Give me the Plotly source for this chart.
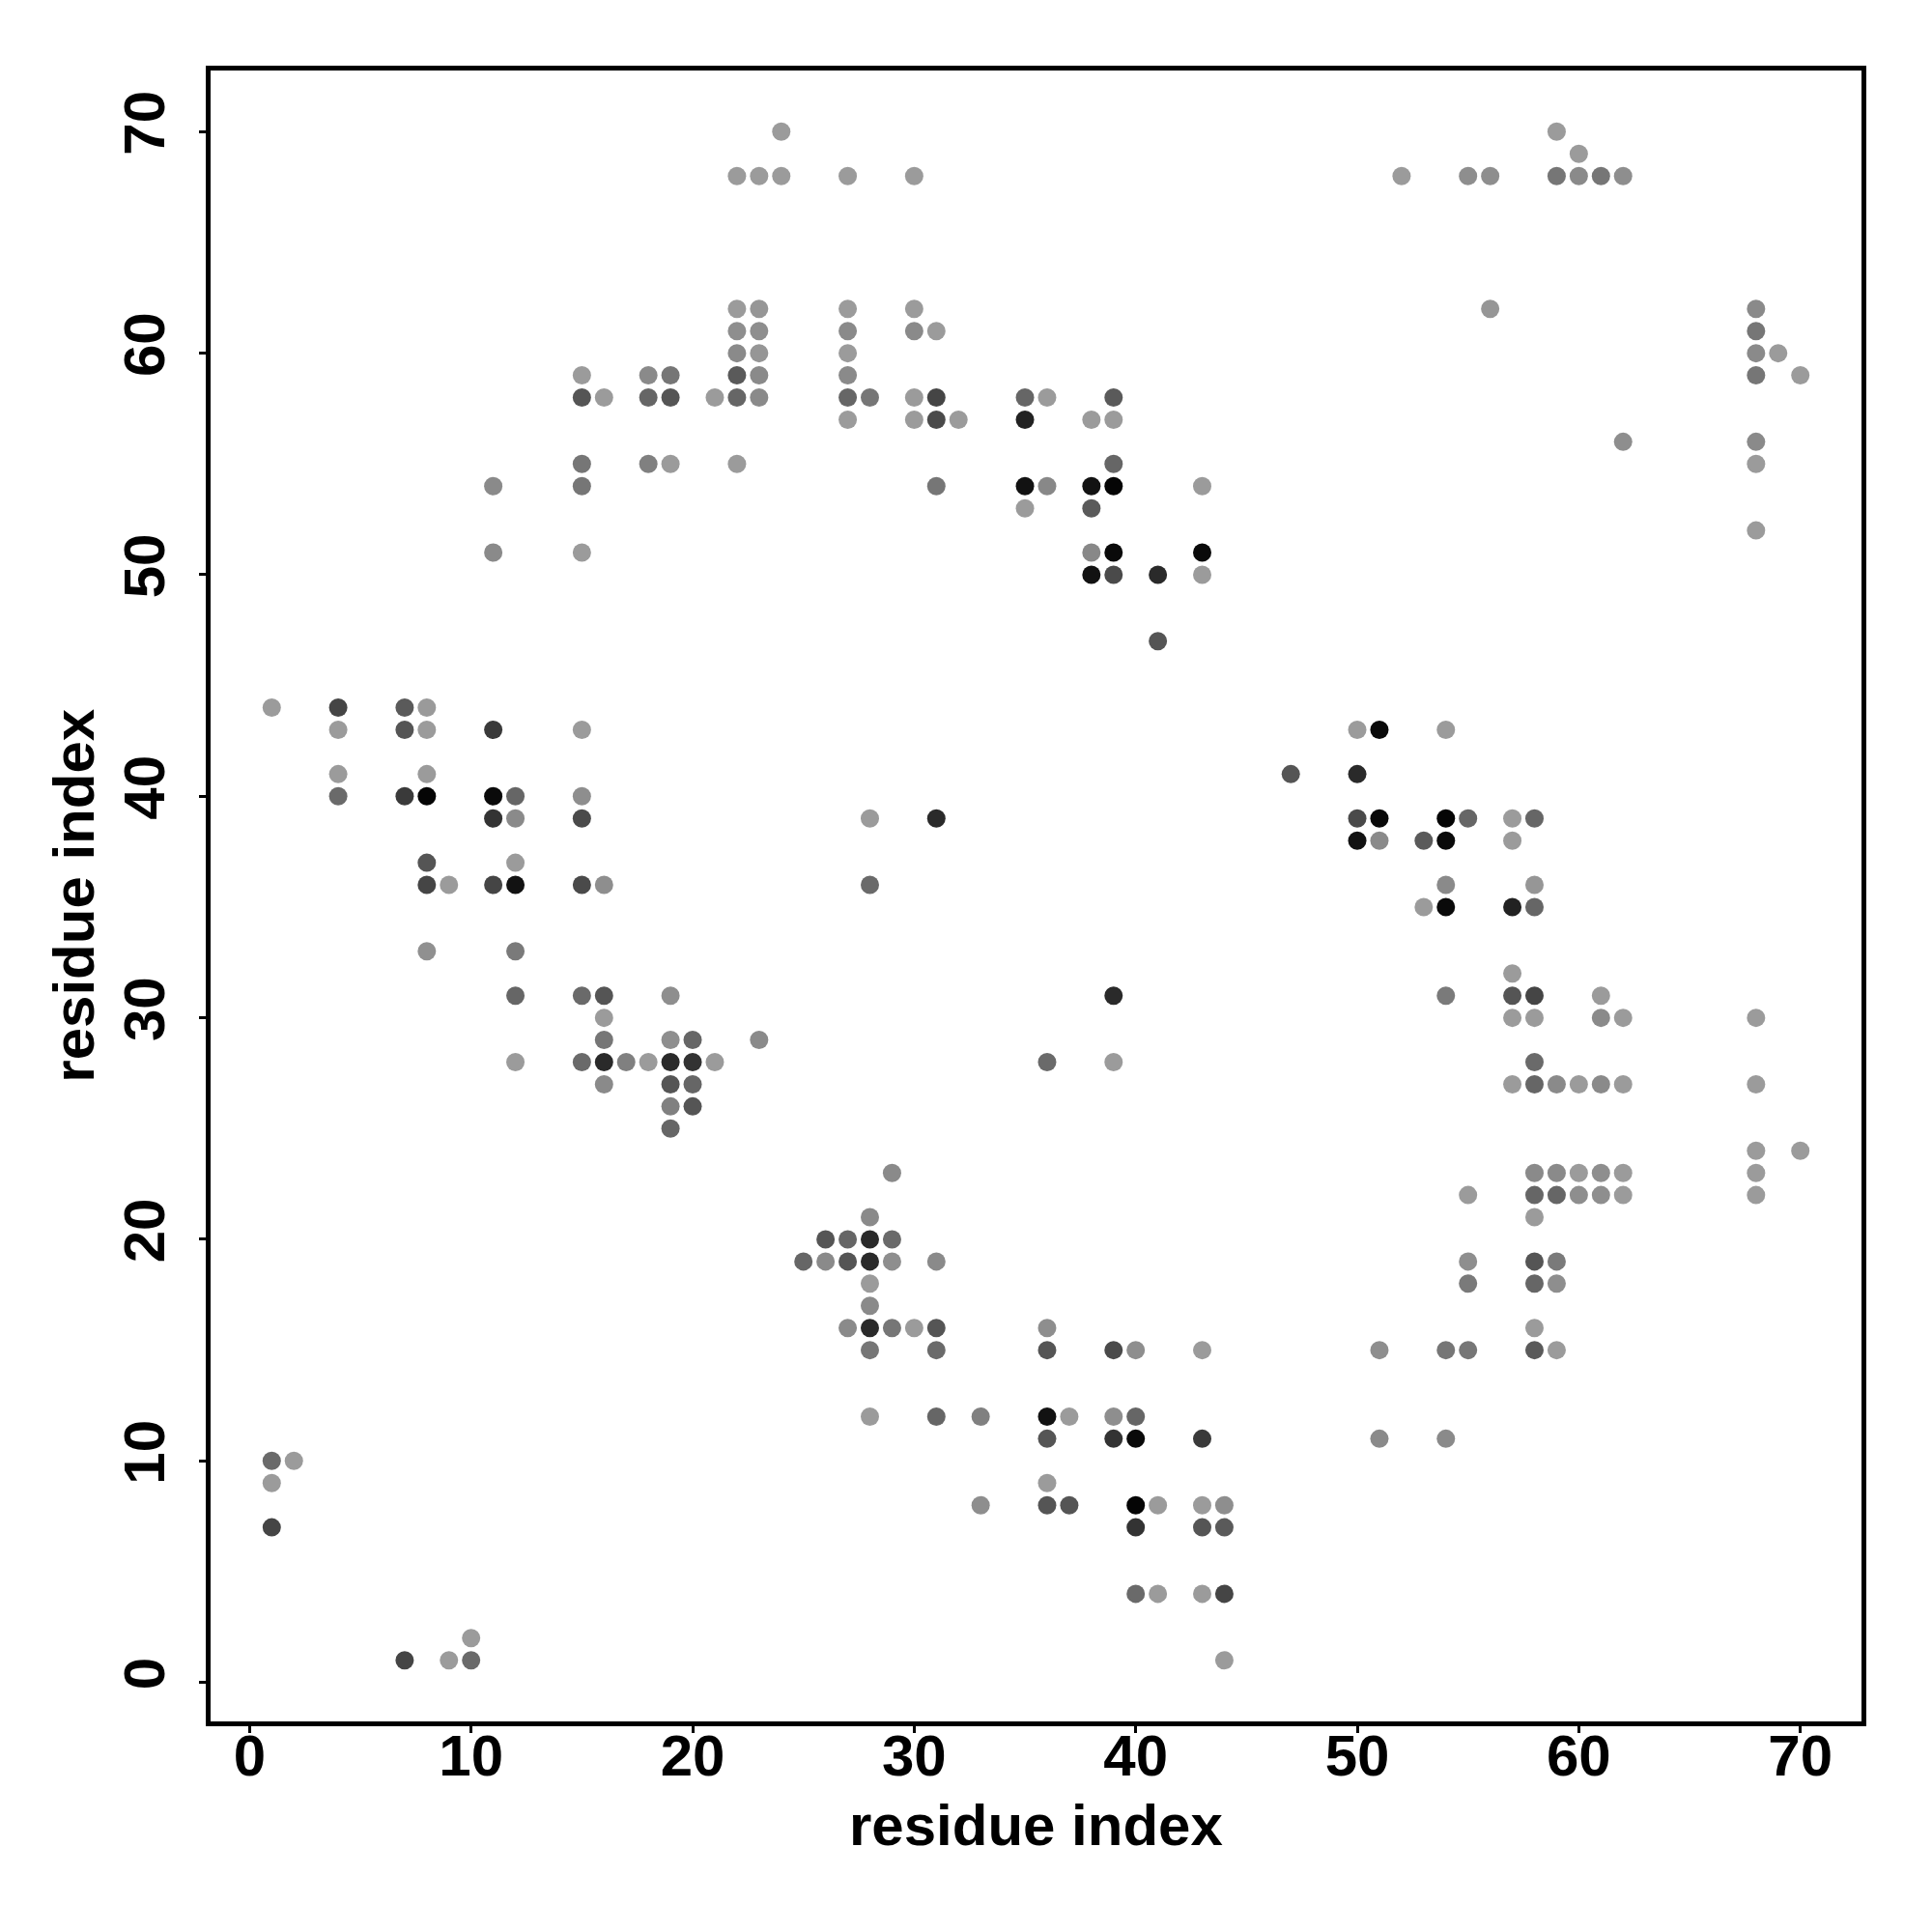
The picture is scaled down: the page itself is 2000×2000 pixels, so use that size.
import plotly.graph_objects as go

# contact map: residue i (x), residue j (y), contact strength (0 = weak/light, 1 = strong/black)
residue_i = [
    24, 59,
    60,
    22, 23, 24, 27, 30, 52, 55, 56, 59, 60, 61, 62,
    22, 23, 27, 30, 56, 68,
    22, 23, 27, 30, 31, 68,
    22, 23, 27, 68, 69,
    15, 18, 19, 22, 23, 27, 68, 70,
    15, 16, 18, 19, 21, 22, 23, 27, 28, 30, 31, 35, 36, 39,
    27, 30, 31, 32, 35, 38, 39,
    62, 68,
    15, 18, 19, 22, 39, 68,
    11, 15, 31, 35, 36, 38, 39, 43,
    35, 38,
    68,
    11, 15, 38, 39, 43,
    38, 39, 41, 43,
    41,
    1, 4, 7, 8,
    4, 7, 8, 11, 15, 50, 51, 54,
    4, 8, 47, 50,
    4, 7, 8, 11, 12, 15,
    11, 12, 15, 28, 31, 50, 51, 54, 55, 57, 58,
    50, 51, 53, 54, 57,
    8, 12,
    8, 9, 11, 12, 15, 16, 28, 54, 58,
    53, 54, 57, 58,
    8, 12,
    57,
    12, 15, 16, 19, 39, 54, 57, 58, 61,
    16, 57, 58, 61, 62, 68,
    16, 19, 20, 23,
    12, 15, 16, 17, 18, 19, 20, 21, 36, 39, 58,
    16, 19, 20, 57, 58, 59, 60, 61, 62, 68,
    19, 20,
    19,
    68, 70,
    29, 58, 59, 60, 61, 62, 68,
    55, 58, 59, 60, 61, 62, 68,
    28, 58,
    26, 27, 28, 29,
    25, 26, 27, 28, 29, 31, 55, 58, 59,
    28, 55, 58, 59,
    28,
    27, 28, 29, 30, 31, 36, 58,
    28, 31, 36, 39, 40, 43, 51, 54, 55, 58, 59,
    28, 31, 33, 36, 37, 39, 40,
    36, 39, 40, 43, 51, 54,
    1, 2,
    1, 36,
    33, 36, 37, 40, 41, 43, 44,
    1, 40, 43, 44,
    40, 41, 43, 44,
    10,
    7, 9, 10, 44,
]

residue_j = [
    70, 70,
    69,
    68, 68, 68, 68, 68, 68, 68, 68, 68, 68, 68, 68,
    62, 62, 62, 62, 62, 62,
    61, 61, 61, 61, 61, 61,
    60, 60, 60, 60, 60,
    59, 59, 59, 59, 59, 59, 59, 59,
    58, 58, 58, 58, 58, 58, 58, 58, 58, 58, 58, 58, 58, 58,
    57, 57, 57, 57, 57, 57, 57,
    56, 56,
    55, 55, 55, 55, 55, 55,
    54, 54, 54, 54, 54, 54, 54, 54,
    53, 53,
    52,
    51, 51, 51, 51, 51,
    50, 50, 50, 50,
    47,
    44, 44, 44, 44,
    43, 43, 43, 43, 43, 43, 43, 43,
    41, 41, 41, 41,
    40, 40, 40, 40, 40, 40,
    39, 39, 39, 39, 39, 39, 39, 39, 39, 39, 39,
    38, 38, 38, 38, 38,
    37, 37,
    36, 36, 36, 36, 36, 36, 36, 36, 36,
    35, 35, 35, 35,
    33, 33,
    32,
    31, 31, 31, 31, 31, 31, 31, 31, 31,
    30, 30, 30, 30, 30, 30,
    29, 29, 29, 29,
    28, 28, 28, 28, 28, 28, 28, 28, 28, 28, 28,
    27, 27, 27, 27, 27, 27, 27, 27, 27, 27,
    26, 26,
    25,
    24, 24,
    23, 23, 23, 23, 23, 23, 23,
    22, 22, 22, 22, 22, 22, 22,
    21, 21,
    20, 20, 20, 20,
    19, 19, 19, 19, 19, 19, 19, 19, 19,
    18, 18, 18, 18,
    17,
    16, 16, 16, 16, 16, 16, 16,
    15, 15, 15, 15, 15, 15, 15, 15, 15, 15, 15,
    12, 12, 12, 12, 12, 12, 12,
    11, 11, 11, 11, 11, 11,
    10, 10,
    9, 9,
    8, 8, 8, 8, 8, 8, 8,
    7, 7, 7, 7,
    4, 4, 4, 4,
    2,
    1, 1, 1, 1,
]

strength = [
    0.03, 0.03,
    0.03,
    0.03, 0.03, 0.03, 0.03, 0.03, 0.03, 0.11, 0.11, 0.26, 0.14, 0.26, 0.11,
    0.03, 0.06, 0.03, 0.03, 0.06, 0.14,
    0.11, 0.11, 0.14, 0.14, 0.03, 0.26,
    0.14, 0.06, 0.03, 0.14, 0.03,
    0.03, 0.14, 0.26, 0.44, 0.14, 0.14, 0.26, 0.03,
    0.47, 0.03, 0.36, 0.47, 0.03, 0.36, 0.14, 0.36, 0.26, 0.03, 0.57, 0.36, 0.03, 0.44,
    0.03, 0.03, 0.54, 0.03, 0.79, 0.03, 0.03,
    0.11, 0.14,
    0.26, 0.20, 0.03, 0.03, 0.36, 0.03,
    0.14, 0.26, 0.26, 0.89, 0.15, 0.89, 0.97, 0.03,
    0.03, 0.44,
    0.03,
    0.14, 0.03, 0.15, 0.94, 0.94,
    0.89, 0.54, 0.74, 0.03,
    0.47,
    0.03, 0.57, 0.44, 0.04,
    0.03, 0.47, 0.03, 0.64, 0.03, 0.03, 0.94, 0.03,
    0.03, 0.03, 0.47, 0.74,
    0.34, 0.64, 0.97, 0.94, 0.36, 0.11,
    0.68, 0.14, 0.54, 0.03, 0.74, 0.54, 0.94, 0.97, 0.36, 0.03, 0.36,
    0.89, 0.14, 0.44, 0.94, 0.03,
    0.47, 0.03,
    0.57, 0.03, 0.57, 0.89, 0.54, 0.11, 0.34, 0.14, 0.06,
    0.03, 0.94, 0.79, 0.36,
    0.10, 0.24,
    0.03,
    0.36, 0.34, 0.47, 0.11, 0.74, 0.24, 0.47, 0.57, 0.03,
    0.03, 0.03, 0.03, 0.14, 0.03, 0.03,
    0.26, 0.11, 0.36, 0.14,
    0.03, 0.34, 0.74, 0.20, 0.03, 0.74, 0.68, 0.03, 0.34, 0.03, 0.34,
    0.14, 0.47, 0.36, 0.03, 0.36, 0.14, 0.03, 0.14, 0.03, 0.03,
    0.20, 0.47,
    0.36,
    0.03, 0.03,
    0.14, 0.14, 0.14, 0.03, 0.11, 0.03, 0.03,
    0.03, 0.36, 0.36, 0.11, 0.11, 0.03, 0.03,
    0.14, 0.03,
    0.47, 0.36, 0.74, 0.34,
    0.36, 0.14, 0.47, 0.74, 0.11, 0.14, 0.11, 0.47, 0.24,
    0.03, 0.24, 0.36, 0.11,
    0.14,
    0.14, 0.74, 0.26, 0.03, 0.47, 0.11, 0.03,
    0.26, 0.34, 0.47, 0.54, 0.11, 0.03, 0.11, 0.26, 0.26, 0.44, 0.03,
    0.03, 0.36, 0.20, 0.89, 0.03, 0.11, 0.36,
    0.47, 0.68, 0.94, 0.64, 0.14, 0.14,
    0.34, 0.03,
    0.03, 0.03,
    0.11, 0.47, 0.47, 0.97, 0.03, 0.03, 0.11,
    0.57, 0.68, 0.47, 0.44,
    0.34, 0.03, 0.03, 0.57,
    0.03,
    0.57, 0.03, 0.34, 0.03,
]

tick_values = [0, 10, 20, 30, 40, 50, 60, 70]
axis_label = "residue index"

assert len(residue_i) == len(residue_j) == len(strength)

FONT = dict(family="Liberation Sans, Arial, Helvetica, sans-serif", size=60, color="black", weight="bold")

fig = go.Figure(
    go.Scatter(
        x=residue_i,
        y=residue_j,
        mode="markers",
        marker=dict(
            size=19,
            color=strength,
            cmin=0,
            cmax=1,
            colorscale=[[0, "rgb(160,160,160)"], [1, "rgb(0,0,0)"]],
            showscale=False,
            line=dict(width=0),
        ),
        hoverinfo="x+y",
    )
)

axis_common = dict(
    tickvals=tick_values,
    ticks="outside",
    ticklen=7,
    tickwidth=3,
    tickcolor="black",
    showline=True,
    mirror=True,
    linewidth=5,
    linecolor="black",
    showgrid=False,
    zeroline=False,
    tickfont=FONT,
)

fig.update_layout(
    width=2000,
    height=2000,
    margin=dict(l=210, r=81, t=65, b=226),
    plot_bgcolor="white",
    paper_bgcolor="white",
    showlegend=False,
    font=FONT,
    xaxis=dict(range=[-1.76, 72.76], ticklabelstandoff=-28, **axis_common),
    yaxis=dict(range=[-1.76, 72.76], tickangle=-90, ticklabelstandoff=12, **axis_common),
    annotations=[
        dict(text=axis_label, xref="paper", yref="paper", x=0.5, y=-0.063,
             xanchor="center", yanchor="middle", showarrow=False, font=FONT),
        dict(text=axis_label, xref="paper", yref="paper", x=-0.083, y=0.5,
             xanchor="center", yanchor="middle", textangle=-90, showarrow=False, font=FONT),
    ],
)

fig.write_html("out.html")
